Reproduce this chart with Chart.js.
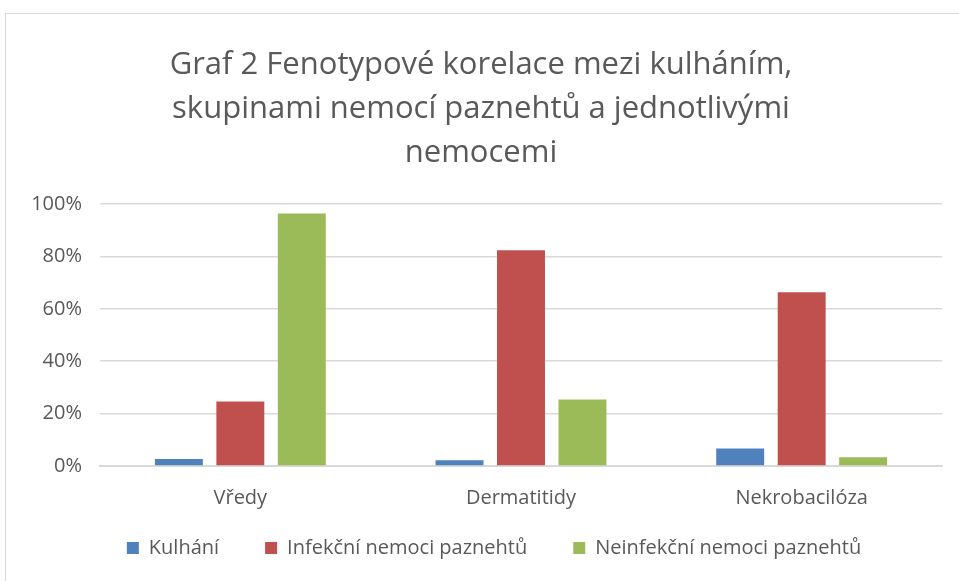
<!DOCTYPE html>
<html>
<head>
<meta charset="utf-8">
<script src="https://cdn.jsdelivr.net/npm/chart.js@4"></script>
<style>
  body { margin: 0; background: #fff; }
  #frame { position: absolute; left: 5px; top: 13px; width: 1000px; height: 600px; border: 1px solid #d9d9d9; }
  #wrap { position: absolute; left: 0; top: 0; width: 959px; height: 581px; }
</style>
</head>
<body>
<div id="frame"></div>
<div id="wrap"><canvas id="graf"></canvas></div>
<script>
// Data
const kategorie = ['Vředy', 'Dermatitidy', 'Nekrobacilóza'];
const kulhani = [2.7, 2.2, 6.7];
const infekcni = [24.6, 82.4, 66.3];
const neinfekcni = [96.4, 25.4, 3.3];
const yTicks = [0, 20, 40, 60, 80, 100];

const font = '"Open Sans", Lato, sans-serif';
const sedy = '#595959';
const legendaPad = 46;

// legenda: velke mezery mezi polozkami, ale mala vyska
const legendaPosun = {
    id: 'legendaPosun',
    beforeInit(chart) {
        const fit = chart.legend.fit;
        chart.legend.fit = function () {
            fit.call(this);
            this.height = 46;
        };
    },
    afterLayout(chart) {
        chart.legend.top = 548 - 10 - legendaPad;
        chart.legend.left += 13;
        chart.legend.right += 13;
    }
};

let ctx = document.getElementById('graf').getContext('2d');

new Chart(ctx, {
    type: 'bar',
    data: {
        labels: kategorie,
        datasets: [
            { label: 'Kulhání', data: kulhani, backgroundColor: '#4f81bd' },
            { label: 'Infekční nemoci paznehtů', data: infekcni, backgroundColor: '#c0504d' },
            { label: 'Neinfekční nemoci paznehtů', data: neinfekcni, backgroundColor: '#9bbb59' }
        ]
    },
    plugins: [legendaPosun],
    options: {
        responsive: true,
        maintainAspectRatio: false,
        animation: false,
        categoryPercentage: 0.657,
        barPercentage: 0.78,
        layout: {
            padding: { left: 20, right: 17, top: 43, bottom: 13 }
        },
        plugins: {
            title: {
                display: true,
                text: ['Graf 2 Fenotypové korelace mezi kulháním,', 'skupinami nemocí paznehtů a jednotlivými', 'nemocemi'],
                color: sedy,
                font: { family: font, size: 31, weight: 'normal', lineHeight: 1.42 },
                padding: { top: 0, bottom: 29 }
            },
            legend: {
                position: 'bottom',
                labels: {
                    color: sedy,
                    font: { family: font, size: 20 },
                    boxWidth: 12,
                    boxHeight: 12,
                    padding: legendaPad
                }
            },
            tooltip: { enabled: false }
        },
        scales: {
            x: {
                grid: { display: false },
                border: { color: '#d9d9d9', width: 2 },
                ticks: { color: sedy, font: { family: font, size: 20 }, padding: 12 }
            },
            y: {
                min: 0,
                max: 100,
                afterFit: scale => { scale.width = 80; },
                afterBuildTicks: scale => { scale.ticks = yTicks.map(v => ({ value: v })); },
                grid: { color: '#d9d9d9', lineWidth: 1.5, drawTicks: false },
                border: { display: false },
                ticks: {
                    color: sedy,
                    font: { family: font, size: 20 },
                    padding: 18,
                    callback: v => v + '%'
                }
            }
        }
    }
});
</script>
</body>
</html>
